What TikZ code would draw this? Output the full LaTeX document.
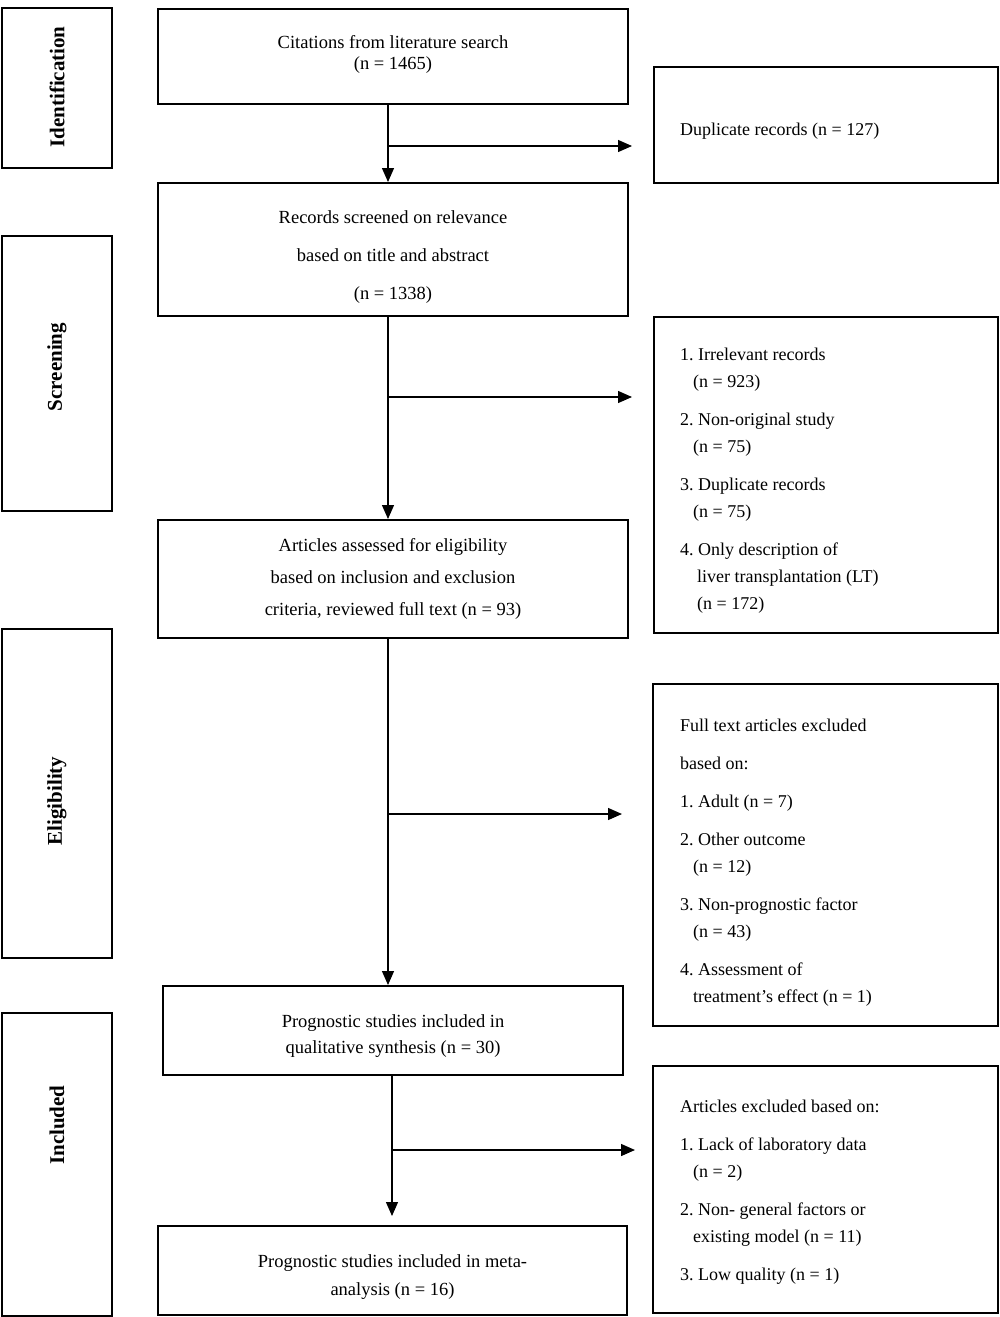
\documentclass[tikz,border=0pt]{standalone}
\usepackage{fontspec}
\setmainfont{Liberation Serif}
\usetikzlibrary{arrows.meta}
\frenchspacing
\begin{document}
\begin{tikzpicture}[x=1pt,y=-1pt,
  mbox/.style={draw,line width=2pt,inner sep=0pt},
  mtext/.style={align=center,inner sep=0pt},
  rbox/.style={draw,line width=2pt,inner sep=0pt},
  sbox/.style={draw,line width=2.2pt,inner sep=0pt},
  slabel/.style={rotate=90,font=\fontsize{21}{24}\selectfont\bfseries,inner sep=0pt},
  rtext/.style={anchor=west,align=left,inner sep=0pt},
  arr/.style={line width=1.3pt,-{Triangle[length=14pt,width=12pt]}}]
\useasboundingbox (0,0) rectangle (1000,1317);
% side boxes
\node[sbox,minimum width=110pt,minimum height=160pt] (s1) at (57,88) {};
\node[slabel] (l1) at (57,87) {Identification};
\node[sbox,minimum width=110pt,minimum height=275pt] (s2) at (57,373.5) {};
\node[slabel] (l2) at (57,367) {Screening};
\node[sbox,minimum width=110pt,minimum height=329pt] (s3) at (57,793.5) {};
\node[slabel] (l3) at (57,801) {Eligibility};
\node[sbox,minimum width=110pt,minimum height=303pt] (s4) at (57,1164.5) {};
\node[slabel] (l4) at (57,1125) {Included};
% main boxes
\node[mbox,minimum width=470pt,minimum height=95pt] (b1) at (393,56.5) {};
\node[mtext,font=\fontsize{18.5}{21}\selectfont] (t1) at (393,54) {Citations from literature search\\(n = 1465)};
\node[mbox,minimum width=470pt,minimum height=133pt] (b2) at (393,249.5) {};
\node[mtext,font=\fontsize{18.5}{38}\selectfont] (t2) at (393,257.5) {Records screened on relevance\\based on title and abstract\\(n = 1338)};
\node[mbox,minimum width=470pt,minimum height=118pt] (b3) at (393,579) {};
\node[mtext,font=\fontsize{18.5}{32}\selectfont] (t3) at (393,579) {Articles assessed for eligibility\\based on inclusion and exclusion\\criteria, reviewed full text (n = 93)};
\node[mbox,minimum width=460pt,minimum height=89pt] (b4) at (393,1030.5) {};
\node[mtext,font=\fontsize{18.5}{26}\selectfont] (t4) at (393,1036.5) {Prognostic studies included in\\qualitative synthesis (n = 30)};
\node[mbox,minimum width=469pt,minimum height=89pt] (b5) at (392.5,1270.5) {};
\node[mtext,font=\fontsize{18.5}{28}\selectfont] (t5) at (392.5,1277.5) {Prognostic studies included in meta-\\analysis (n = 16)};
% right boxes
\node[rbox,minimum width=344pt,minimum height=116pt] (r1) at (826,125) {};
\node[rtext,font=\fontsize{18}{27}\selectfont] (rt1) at (680,131) {Duplicate records (n = 127)};
\node[rbox,minimum width=344pt,minimum height=316pt] (r2) at (826,475) {};
\node[rtext,font=\fontsize{18}{27}\selectfont] (rt2) at (680,480.5) {1. Irrelevant records\\
\hspace*{13pt}(n = 923)\\[11pt]
2. Non-original study\\
\hspace*{13pt}(n = 75)\\[11pt]
3. Duplicate records\\
\hspace*{13pt}(n = 75)\\[11pt]
4. Only description of\\
\hspace*{17pt}liver transplantation (LT)\\
\hspace*{17pt}(n = 172)};
\node[rbox,minimum width=345pt,minimum height=342pt] (r3) at (825.5,855) {};
\node[rtext,font=\fontsize{18}{27}\selectfont] (rt3) at (680,863) {Full text articles excluded\\[11pt]
based on:\\[11pt]
1. Adult (n = 7)\\[11pt]
2. Other outcome\\
\hspace*{13pt}(n = 12)\\[11pt]
3. Non-prognostic factor\\
\hspace*{13pt}(n = 43)\\[11pt]
4. Assessment of\\
\hspace*{13pt}treatment's effect (n = 1)};
\node[rbox,minimum width=345pt,minimum height=247pt] (r4) at (825.5,1189.5) {};
\node[rtext,font=\fontsize{18}{27}\selectfont] (rt4) at (680,1192.5) {Articles excluded based on:\\[11pt]
1. Lack of laboratory data\\
\hspace*{13pt}(n = 2)\\[11pt]
2. Non- general factors or\\
\hspace*{13pt}existing model (n = 11)\\[11pt]
3. Low quality (n = 1)};
% connectors
\coordinate (j1) at (388,146);
\coordinate (e1) at (632,146);
\coordinate (j2) at (388,397);
\coordinate (e2) at (632,397);
\coordinate (j3) at (389,814);
\coordinate (e3) at (622,814);
\coordinate (j4) at (392,1150);
\coordinate (e4) at (635,1150);
\draw[arr] (b1.south -| j1) -- (b2.north -| j1);
\draw[arr] (j1) -- (e1);
\draw[arr] (b2.south -| j2) -- (b3.north -| j2);
\draw[arr] (j2) -- (e2);
\draw[arr] (b3.south -| j1) -- (b4.north -| j1);
\draw[arr] (j3) -- (e3);
\draw[arr,shorten >=9pt] (b4.south -| j4) -- (b5.north -| j4);
\draw[arr] (j4) -- (e4);
\end{tikzpicture}
\end{document}
